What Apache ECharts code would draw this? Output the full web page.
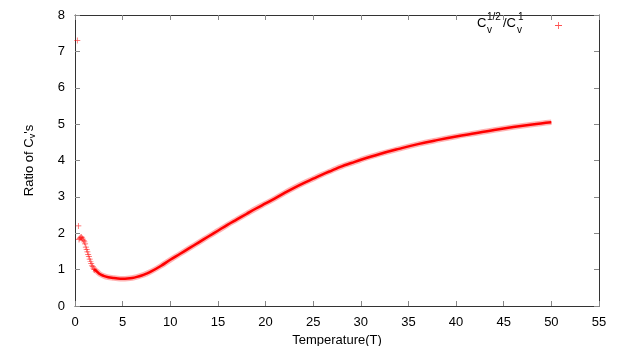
<!DOCTYPE html>
<html>
<head>
<meta charset="utf-8">
<script src="https://cdn.jsdelivr.net/npm/echarts@6/dist/echarts.min.js"></script>
<style>
  html, body { margin: 0; padding: 0; background: #fff; }
  #main { width: 623px; height: 346px; }
</style>
</head>
<body>
<div id="main"></div>
<script>
// early, sparse points (drawn as separate crosses)
var tSparse = [0.24, 0.35, 0.42, 0.5, 0.58, 0.66, 0.74, 0.82, 0.9, 0.98, 1.06, 1.14, 1.22, 1.3, 1.38, 1.46, 1.54, 1.62, 1.7, 1.78, 1.86, 1.94, 2.02];
var vSparse = [7.3, 2.2, 1.83, 1.86, 1.88, 1.9, 1.87, 1.84, 1.8, 1.76, 1.71, 1.62, 1.55, 1.49, 1.42, 1.36, 1.29, 1.23, 1.17, 1.12, 1.08, 1.04, 1.0];

// dense part of the curve (looks like a thick band)
var tBand = [2.0, 2.3, 2.6, 3.0, 3.5, 4.0, 4.5, 5.0, 5.5, 6.0, 6.5, 7.0, 7.5, 8.0, 9, 10, 11, 12, 13, 14, 15, 16, 17, 18, 19, 20, 21, 22, 23, 24, 25, 26, 27, 28, 29, 30, 32, 34, 36, 38, 40, 42, 44, 46, 48, 50];
var vBand = [1.01, 0.95, 0.88, 0.83, 0.79, 0.77, 0.755, 0.75, 0.755, 0.77, 0.8, 0.84, 0.89, 0.95, 1.1, 1.27, 1.43, 1.59, 1.75, 1.91, 2.07, 2.23, 2.38, 2.53, 2.68, 2.82, 2.96, 3.11, 3.25, 3.38, 3.5, 3.62, 3.73, 3.84, 3.93, 4.02, 4.18, 4.32, 4.45, 4.56, 4.66, 4.75, 4.84, 4.92, 4.99, 5.05];

var xTicks = [0, 55, 5];
var yTicks = [0, 8, 1];

var sparseData = [];
for (var i = 0; i < tSparse.length; i++) sparseData.push([tSparse[i], vSparse[i]]);
var bandData = [];
for (var j = 0; j < tBand.length; j++) bandData.push([tBand[j], vBand[j]]);

var plus = 'path://M4.4,0h1.2v4.4h4.4v1.2h-4.4v4.4h-1.2v-4.4h-4.4v-1.2h4.4z';
var font = 'Liberation Sans';

var chart = echarts.init(document.getElementById('main'));
chart.setOption({
  animation: false,
  textStyle: { fontFamily: font },
  grid: { left: 75, right: 24, top: 15, bottom: 40, outerBoundsMode: 'none', containLabel: false },
  legend: {
    data: ['ratio'],
    left: 550, top: 17,
    itemWidth: 7, itemHeight: 7,
    formatter: function () { return ''; }
  },
  xAxis: [
    {
      type: 'value', min: xTicks[0], max: xTicks[1], interval: xTicks[2],
      name: 'Temperature(T)', nameLocation: 'middle', nameGap: 25,
      nameTextStyle: { fontSize: 13, color: '#000' },
      axisLine: { onZero: false, lineStyle: { color: '#333' } },
      axisTick: { inside: true, length: 5, lineStyle: { color: '#888' } },
      axisLabel: { fontSize: 13, color: '#000', margin: 10 },
      splitLine: { show: false }
    },
    {
      type: 'value', position: 'top', min: xTicks[0], max: xTicks[1], interval: xTicks[2],
      axisLine: { show: true, onZero: false, lineStyle: { color: '#333' } },
      axisTick: { inside: true, length: 5, lineStyle: { color: '#888' } },
      axisLabel: { show: false },
      splitLine: { show: false }
    }
  ],
  yAxis: [
    {
      type: 'value', min: yTicks[0], max: yTicks[1], interval: yTicks[2],
      name: 'Ratio of C{sub|v}\'s', nameLocation: 'middle', nameGap: 38,
      nameTextStyle: {
        fontSize: 13, color: '#000',
        rich: { sub: { fontSize: 9, color: '#000', padding: [7, 0, 0, 0] } }
      },
      axisLine: { show: true, onZero: false, lineStyle: { color: '#333' } },
      axisTick: { inside: true, length: 5, lineStyle: { color: '#888' } },
      axisLabel: { fontSize: 13, color: '#000', margin: 10 },
      splitLine: { show: false }
    },
    {
      type: 'value', position: 'right', min: yTicks[0], max: yTicks[1], interval: yTicks[2],
      axisLine: { show: true, onZero: false, lineStyle: { color: '#333' } },
      axisTick: { inside: true, length: 5, lineStyle: { color: '#888' } },
      axisLabel: { show: false },
      splitLine: { show: false }
    }
  ],
  graphic: [
    { type: 'text', left: 477, top: 17, style: { text: 'C', font: '13px ' + font, fill: '#000' } },
    { type: 'text', left: 487, top: 25, style: { text: 'v', font: '10px ' + font, fill: '#000' } },
    { type: 'text', left: 487, top: 12, style: { text: '1/2', font: '10px ' + font, fill: '#000' } },
    { type: 'text', left: 503, top: 17, style: { text: '/C', font: '13px ' + font, fill: '#000' } },
    { type: 'text', left: 517, top: 25, style: { text: 'v', font: '10px ' + font, fill: '#000' } },
    { type: 'text', left: 518, top: 12, style: { text: '1', font: '10px ' + font, fill: '#000' } }
  ],
  series: [
    {
      name: 'band',
      type: 'line',
      smooth: 0.4,
      showSymbol: false,
      data: bandData,
      lineStyle: { color: 'rgba(255,0,0,0.3)', width: 5.5 },
      z: 2
    },
    {
      name: 'band2',
      type: 'line',
      smooth: 0.4,
      showSymbol: false,
      data: bandData,
      lineStyle: { color: '#ff0000', width: 2.5 },
      z: 3
    },
    {
      name: 'ratio',
      type: 'scatter',
      symbol: plus,
      symbolSize: 6,
      data: sparseData,
      itemStyle: { color: 'rgba(255,0,0,0.85)' },
      z: 4
    }
  ]
});
</script>
</body>
</html>
